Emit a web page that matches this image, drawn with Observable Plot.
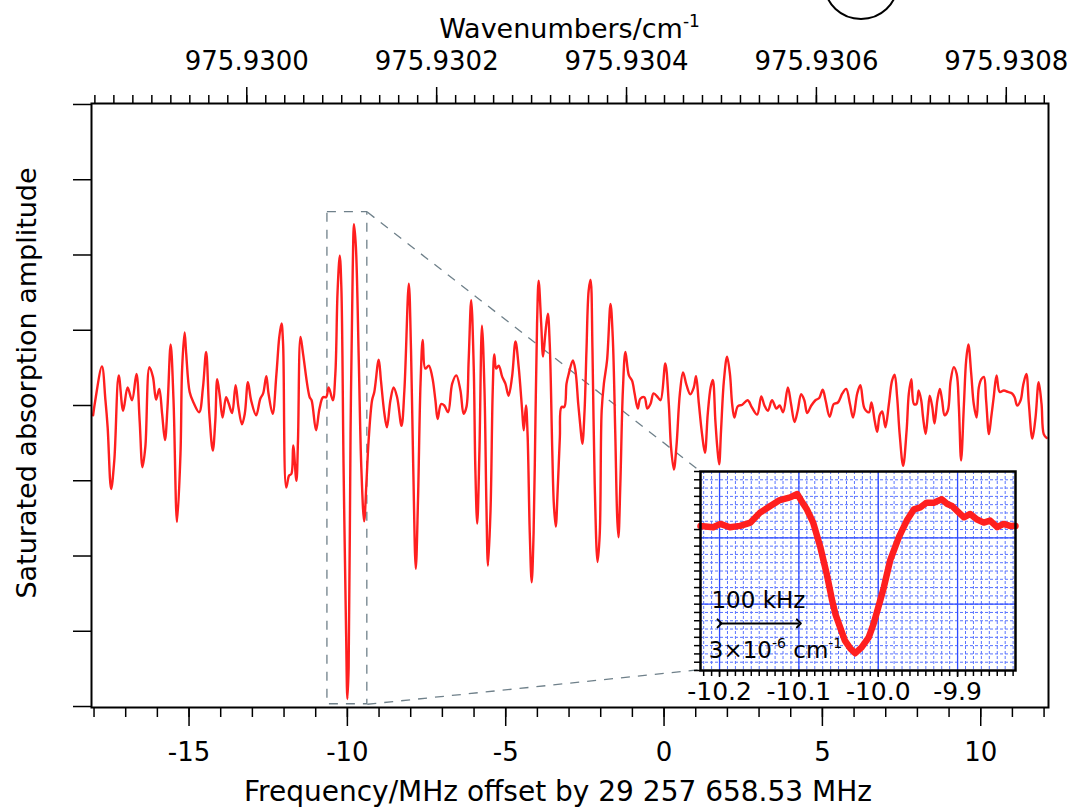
<!DOCTYPE html>
<html><head><meta charset="utf-8">
<script src="https://cdn.jsdelivr.net/npm/d3@7"></script>
<script src="https://cdn.jsdelivr.net/npm/@observablehq/plot@0.6"></script>
<style>
html,body{margin:0;padding:0;background:#fff;}
#wrap{position:relative;width:1079px;height:807px;overflow:hidden;}
#wrap > svg{position:absolute;}
</style></head><body><div id="wrap"></div>
<script>
// ---- main trace (frequency offset in MHz, amplitude arbitrary units) ----
const freqMHz = [-18.03,-17.96,-17.75,-17.64,-17.57,-17.46,-17.36,-17.22,-17.08,-16.94,-16.80,-16.66,-16.56,-16.47,-16.38,-16.25,-16.14,-16.04,-15.94,-15.85,-15.76,-15.68,-15.58,-15.49,-15.38,-15.27,-15.22,-15.14,-15.09,-14.98,-14.86,-14.68,-14.56,-14.46,-14.36,-14.25,-14.17,-14.11,-14.03,-13.94,-13.83,-13.75,-13.64,-13.53,-13.44,-13.33,-13.24,-13.14,-13.04,-12.88,-12.75,-12.66,-12.56,-12.49,-12.36,-12.24,-12.15,-12.08,-12.03,-11.93,-11.84,-11.77,-11.71,-11.61,-11.56,-11.48,-11.40,-11.19,-11.13,-10.99,-10.88,-10.77,-10.67,-10.59,-10.46,-10.38,-10.31,-10.24,-10.19,-10.12,-10.04,-10.00,-9.96,-9.90,-9.83,-9.79,-9.73,-9.64,-9.56,-9.47,-9.40,-9.33,-9.22,-9.15,-9.01,-8.94,-8.83,-8.75,-8.64,
-8.54,-8.43,-8.29,-8.20,-8.06,-7.99,-7.92,-7.84,-7.77,-7.69,-7.62,-7.54,-7.43,-7.32,-7.22,-7.15,-7.04,-6.94,-6.82,-6.69,-6.56,-6.43,-6.33,-6.24,-6.17,-6.09,-6.01,-5.96,-5.90,-5.83,-5.75,-5.67,-5.61,-5.56,-5.48,-5.41,-5.36,-5.30,-5.22,-5.11,-5.01,-4.91,-4.80,-4.69,-4.59,-4.48,-4.43,-4.36,-4.31,-4.24,-4.18,-4.12,-4.06,-4.01,-3.96,-3.88,-3.82,-3.75,-3.67,-3.61,-3.53,-3.48,-3.42,-3.36,-3.29,-3.24,-3.15,-3.08,-3.01,-2.88,-2.80,-2.71,-2.64,-2.58,-2.51,-2.45,-2.38,-2.32,-2.26,-2.19,-2.10,-2.03,-1.97,-1.90,-1.80,-1.69,-1.62,-1.54,-1.48,-1.44,-1.38,-1.30,-1.22,-1.11,-1.01,-0.93,-0.83,-0.75,-0.62,-0.53,-0.43,-0.33,-0.20,
-0.11,0.04,0.15,0.22,0.31,0.39,0.50,0.60,0.71,0.83,0.94,1.01,1.10,1.20,1.29,1.38,1.47,1.54,1.62,1.68,1.74,1.80,1.89,1.99,2.08,2.15,2.22,2.33,2.47,2.64,2.78,2.94,3.07,3.17,3.28,3.41,3.55,3.65,3.76,3.91,4.01,4.12,4.22,4.33,4.43,4.52,4.65,4.78,4.90,5.01,5.10,5.23,5.36,5.49,5.63,5.75,5.87,5.97,6.10,6.20,6.33,6.47,6.55,6.65,6.73,6.81,6.89,6.99,7.10,7.20,7.28,7.36,7.44,7.55,7.66,7.73,7.81,7.89,7.97,8.04,8.12,8.18,8.26,8.33,8.39,8.47,8.54,8.63,8.71,8.78,8.86,8.96,9.05,9.15,9.24,9.31,9.38,9.47,9.54,9.61,9.70,9.78,9.87,9.94,10.02,10.10,10.17,10.26,10.33,10.41,10.50,10.60,10.73,10.86,10.99,11.07,11.15,11.26,11.34,11.44,11.52,11.63,11.73,11.83,11.92,11.99,12.08];
const amplitude = [-0.13,0.07,0.52,0.07,-0.29,-1.11,-0.73,0.40,-0.07,0.24,0.07,0.42,-0.20,-0.82,-0.55,0.51,0.38,0.08,0.22,-0.11,-0.46,-0.02,0.81,0.07,-1.55,-0.64,0.47,0.97,0.69,0.18,0.04,-0.09,0.24,0.71,-0.11,-0.60,-0.20,0.35,0.13,-0.16,0.11,0.03,-0.10,0.27,-0.02,-0.25,-0.11,0.31,0.07,-0.13,0.09,0.16,0.39,0.16,-0.11,0.42,0.91,1.09,0.82,-1.09,-0.93,-0.91,-0.53,-1.00,-0.47,0.91,0.69,0.11,0.07,-0.33,-0.04,0.11,0.11,0.24,0.07,0.42,1.51,1.99,1.57,-0.82,-3.03,-3.90,-3.48,-0.38,1.84,2.41,2.10,0.60,-0.82,-1.54,-1.04,-0.47,0.07,0.18,0.61,0.33,-0.11,-0.29,0.07,
0.24,0.11,-0.27,0.20,1.62,0.73,-0.82,-2.17,-1.26,0.29,0.87,0.49,0.53,0.38,0.07,-0.18,0.02,0.00,-0.09,0.29,0.40,0.20,-0.11,-0.02,0.60,1.40,0.51,-0.82,-1.57,-0.60,1.06,0.20,-1.31,-2.13,-1.40,0.20,0.68,0.49,0.53,0.38,0.29,0.13,0.38,0.85,0.51,-0.07,-0.33,0.00,-0.38,-1.70,-2.35,-1.70,-0.16,1.09,1.66,1.09,0.65,0.95,1.22,0.82,-0.60,-1.31,-1.61,-1.13,-0.42,-0.02,-0.02,0.29,0.42,0.60,0.47,0.02,-0.29,-0.51,-0.07,0.73,1.53,1.67,0.73,-1.04,-2.08,-1.70,-0.07,0.29,0.60,1.35,0.91,-0.38,-1.48,-1.75,-1.04,0.20,0.71,0.40,0.33,0.16,-0.04,0.09,0.11,-0.04,0.02,0.16,0.11,
0.07,0.56,0.02,-0.55,-0.85,-0.55,0.16,0.44,0.27,0.15,0.24,0.39,0.02,-0.38,-0.63,-0.11,0.24,0.34,-0.20,-0.55,-0.78,-0.33,0.33,0.65,0.42,0.02,-0.16,-0.01,0.01,0.07,-0.03,-0.12,0.12,0.00,-0.07,0.07,-0.04,0.00,-0.09,0.24,0.02,-0.22,-0.07,0.15,0.07,-0.10,0.00,0.07,0.10,0.21,0.07,-0.15,0.02,0.04,0.16,0.22,0.02,-0.16,0.16,0.27,-0.04,-0.09,0.04,-0.20,-0.35,-0.13,-0.08,-0.29,0.02,0.33,0.41,0.11,-0.38,-0.80,-0.33,0.16,0.35,0.02,0.02,0.20,0.07,-0.16,-0.38,-0.11,0.13,-0.02,-0.24,0.07,0.22,0.07,-0.13,-0.07,0.33,0.51,0.42,-0.02,-0.73,0.02,0.60,0.81,0.42,0.02,-0.16,0.24,0.35,0.38,0.07,-0.38,-0.16,0.11,0.40,0.18,0.20,0.18,0.16,0.11,0.00,0.07,0.27,0.42,0.02,-0.44,-0.16,0.31,0.02,-0.38,-0.43];

// ---- inset trace (zoom on the -10 MHz line) ----
const insetFreqMHz = [-10.224,-10.208,-10.199,-10.187,-10.174,-10.161,-10.149,-10.136,-10.124,-10.111,-10.102,-10.097,-10.090,-10.082,-10.073,-10.065,-10.058,-10.054,-10.048,-10.042,-10.035,-10.029,-10.021,-10.012,-10.006,-10.000,-9.993,-9.985,-9.974,-9.964,-9.955,-9.947,-9.939,-9.930,-9.920,-9.913,-9.907,-9.901,-9.892,-9.884,-9.876,-9.867,-9.859,-9.850,-9.842,-9.834,-9.827];
const insetAmplitude = [2.18,2.16,2.21,2.16,2.18,2.23,2.38,2.48,2.57,2.61,2.66,2.56,2.43,2.23,1.86,1.46,1.05,0.85,0.65,0.45,0.33,0.26,0.35,0.50,0.70,0.95,1.25,1.66,2.01,2.26,2.43,2.46,2.53,2.53,2.58,2.51,2.48,2.41,2.31,2.36,2.28,2.23,2.26,2.16,2.21,2.18,2.18];

// ---- axes ----
const bottomTicks = [-15, -10, -5, 0, 5, 10];
const bottomTickLabels = ["-15", "-10", "-5", "0", "5", "10"];
const topTickWavenumbers = [975.9300, 975.9302, 975.9304, 975.9306, 975.9308];
const topTickLabels = ["975.9300", "975.9302", "975.9304", "975.9306", "975.9308"];
const leftTicks = [-4, -3, -2, -1, 0, 1, 2, 3, 4];
const insetTicks = [-10.2, -10.1, -10.0, -9.9];
const insetTickLabels = ["-10.2", "-10.1", "-10.0", "-9.9"];
const offsetMHz = 29257658.53;
const MHzPerWavenumber = 29979.2458;

// ---- annotations ----
const zoomBox = [{x1: -10.63, x2: -9.37, y1: -3.97, y2: 2.57}];
const connectors = [{x1: -9.37, y1: 2.57, x2: 1.13, y2: -0.87}, {x1: -9.37, y1: -3.97, x2: 1.13, y2: -3.51}];
const scaleBar = [{x1: -10.2, x2: -10.1, y: 0.71}];

const FONT = "'DejaVu Sans', sans-serif";
const toMHz = nu => nu * MHzPerWavenumber - offsetMHz;
const trace = freqMHz.map((x, i) => ({x, y: amplitude[i]}));
const insetTrace = insetFreqMHz.map((x, i) => ({x, y: insetAmplitude[i]}));

const bottomLabelMap = new Map(bottomTicks.map((t, i) => [t, bottomTickLabels[i]]));
const topMajor = topTickWavenumbers.map(toMHz);
const topLabelMap = new Map(topMajor.map((t, i) => [t, topTickLabels[i]]));
const topMinor = d3.range(0, 60).map(i => toMHz(975.9298 + i * 0.00002)).filter(v => v > -18.08 && v < 12.14);
const bottomMinor = d3.range(-18, 13);

const main = Plot.plot({
  width: 1079, height: 807,
  marginLeft: 91, marginRight: 31, marginTop: 103, marginBottom: 100,
  style: {fontFamily: FONT, fontSize: "26px", color: "#000", background: "transparent"},
  x: {domain: [-18.08, 12.14], label: null},
  y: {domain: [-4.013, 4.013], label: null},
  marks: [
    Plot.rect(zoomBox, {x1: "x1", x2: "x2", y1: "y1", y2: "y2", fill: "none", stroke: "#6f808a", strokeWidth: 1.3, strokeDasharray: "9,8"}),
    Plot.link(connectors, {x1: "x1", y1: "y1", x2: "x2", y2: "y2", stroke: "#6f808a", strokeWidth: 1.3, strokeDasharray: "9,8"}),
    Plot.line(trace, {x: "x", y: "y", stroke: "#ff1f1f", strokeWidth: 2.4, strokeLinejoin: "round", curve: "catmull-rom"}),
    Plot.frame({stroke: "#000", strokeWidth: 2}),
    Plot.axisX(bottomMinor, {anchor: "bottom", tickSize: 10, strokeWidth: 1.5, tickFormat: () => ""}),
    Plot.axisX(bottomTicks, {anchor: "bottom", tickSize: 19, tickPadding: 16, strokeWidth: 1.5, fontSize: 26, tickFormat: d => bottomLabelMap.get(d)}),
    Plot.axisX(topMinor, {anchor: "top", tickSize: 9, strokeWidth: 1.5, tickFormat: () => ""}),
    Plot.axisX(topMajor, {anchor: "top", tickSize: 17, tickPadding: 17, strokeWidth: 1.5, fontSize: 26, tickFormat: d => topLabelMap.get(d)}),
    Plot.axisY(leftTicks, {anchor: "left", tickSize: 18, strokeWidth: 1.5, tickFormat: () => ""})
  ]
});
main.style.left = "0px"; main.style.top = "0px";

const ms = d3.select(main);
const t1 = ms.append("text").attr("x", 569.5).attr("y", 38).attr("text-anchor", "middle")
  .attr("font-family", FONT).attr("font-size", 27).attr("fill", "#000");
t1.append("tspan").text("Wavenumbers/cm");
t1.append("tspan").attr("font-size", 17).attr("dy", -11).text("-1");
ms.append("text").attr("x", 558).attr("y", 801).attr("text-anchor", "middle")
  .attr("font-family", FONT).attr("font-size", 28).attr("fill", "#000")
  .text("Frequency/MHz offset by 29 257 658.53 MHz");
ms.append("text").attr("transform", "translate(36,383) rotate(-90)").attr("text-anchor", "middle")
  .attr("font-family", FONT).attr("font-size", 27).attr("fill", "#000")
  .text("Saturated absorption amplitude");
ms.append("ellipse").attr("cx", 861).attr("cy", -15).attr("rx", 36).attr("ry", 34)
  .attr("fill", "none").attr("stroke", "#000").attr("stroke-width", 2);

const insetMinorX = d3.range(0, 40).map(i => Math.round((-10.22 + i * 0.01) * 100) / 100);
const insetMinorY = d3.range(0, 25).map(i => i * 0.125);
const insetLabelMap = new Map(insetTicks.map((t, i) => [t, insetTickLabels[i]]));

const inset = Plot.plot({
  width: 380, height: 270,
  marginLeft: 40, marginRight: 25, marginTop: 31, marginBottom: 40,
  style: {fontFamily: FONT, fontSize: "24px", color: "#000", background: "transparent"},
  x: {domain: [-10.224, -9.827], label: null},
  y: {domain: [0, 3], label: null},
  marks: [
    Plot.frame({fill: "#fff", stroke: "none"}),
    Plot.ruleX(insetMinorX, {stroke: "#5a74ff", strokeWidth: 1, strokeDasharray: "3,2"}),
    Plot.ruleY(insetMinorY, {stroke: "#5a74ff", strokeWidth: 1, strokeDasharray: "3,2"}),
    Plot.ruleX(insetTicks, {stroke: "#2f4cff", strokeWidth: 1.3}),
    Plot.ruleY([1, 2], {stroke: "#2f4cff", strokeWidth: 1.3}),
    Plot.line(insetTrace, {x: "x", y: "y", stroke: "#ff1f1f", strokeWidth: 6.5, strokeLinejoin: "round"}),
    Plot.link(scaleBar, {x1: "x1", x2: "x2", y1: "y", y2: "y", stroke: "#000", strokeWidth: 2, markerStart: "arrow", markerEnd: "arrow"}),
    Plot.frame({stroke: "#000", strokeWidth: 2.5}),
    Plot.axisX(insetMinorX, {anchor: "bottom", tickSize: 6, strokeWidth: 1.5, tickFormat: () => ""}),
    Plot.axisX(insetTicks, {anchor: "bottom", tickSize: 7, tickPadding: 5, strokeWidth: 1.5, fontSize: 25, tickFormat: d => insetLabelMap.get(d)}),
    Plot.axisY(insetMinorY, {anchor: "left", tickSize: 6, strokeWidth: 1.5, tickFormat: () => ""})
  ]
});
inset.style.left = "660px"; inset.style.top = "440px";

const is = d3.select(inset);
const ix = inset.scale("x"), iy = inset.scale("y");
is.append("text").attr("x", ix.apply(-10.2096)).attr("y", iy.apply(0.93)).attr("text-anchor", "start")
  .attr("font-family", FONT).attr("font-size", 23).attr("fill", "#000").text("100 kHz");
const t2 = is.append("text").attr("x", ix.apply(-10.2129)).attr("y", iy.apply(0.18)).attr("text-anchor", "start")
  .attr("font-family", FONT).attr("font-size", 23).attr("fill", "#000");
t2.append("tspan").text("3×10");
t2.append("tspan").attr("font-size", 14).attr("dy", -10).text("-6");
t2.append("tspan").attr("dy", 10).text(" cm");
t2.append("tspan").attr("font-size", 14).attr("dy", -10).text("-1");

const wrap = document.getElementById("wrap");
wrap.appendChild(main);
wrap.appendChild(inset);
</script></body></html>
